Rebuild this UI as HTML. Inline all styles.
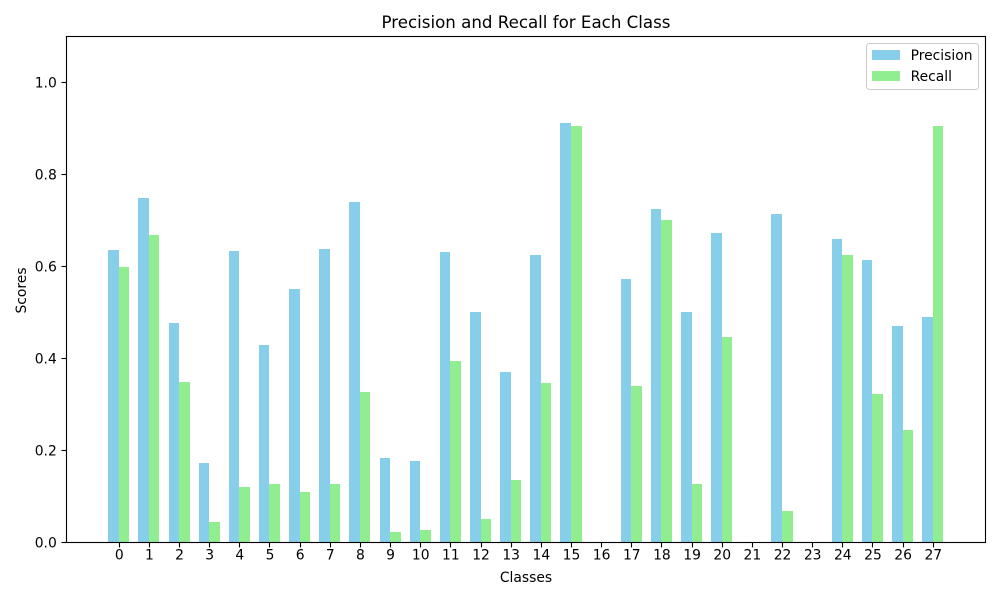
<!DOCTYPE html>
<html>
<head>
<meta charset="utf-8">
<style>
html,body{margin:0;padding:0;background:#fff;}
svg{display:block;}
text{font-family:"DejaVu Sans","Liberation Sans",sans-serif;fill:#000;}
</style>
</head>
<body>
<svg id="chart" width="1000" height="600" viewBox="0 0 1000 600" xmlns="http://www.w3.org/2000/svg"></svg>
<script>
const categories = [0,1,2,3,4,5,6,7,8,9,10,11,12,13,14,15,16,17,18,19,20,21,22,23,24,25,26,27];
const precisionValues = [0.635,0.748,0.476,0.171,0.633,0.428,0.55,0.637,0.74,0.182,0.176,0.63,0.5,0.369,0.624,0.912,0,0.573,0.724,0.5,0.672,0,0.713,0,0.659,0.613,0.469,0.489];
const recallValues = [0.598,0.667,0.348,0.043,0.119,0.126,0.108,0.127,0.326,0.021,0.027,0.393,0.05,0.135,0.345,0.906,0,0.339,0.7,0.126,0.446,0,0.067,0,0.624,0.321,0.243,0.905];
const yTicks = [0,0.2,0.4,0.6,0.8,1.0];
const yMax = 1.1;
const chartTitle = "Precision and Recall for Each Class";
const xTitle = "Classes";
const yTitle = "Scores";

const svg = document.getElementById('chart');
const NS = 'http://www.w3.org/2000/svg';
const plot = {left:66.5, right:985.5, top:36.5, bottom:542};
const barPx = 10.54;
const xScale = v => 118.75 + v * 30.149;
const yScale = v => plot.bottom - (v / yMax) * (plot.bottom - plot.top);
const snap = v => Math.floor(v + 0.5) + 0.5;

function make(tag, attrs, text){
  const el = document.createElementNS(NS, tag);
  for (const k in attrs) el.setAttribute(k, attrs[k]);
  if (text !== undefined) el.textContent = text;
  svg.appendChild(el);
  return el;
}

function bar(x0, x1, value, color){
  const l = Math.round(x0), r = Math.round(x1), t = Math.round(yScale(value));
  return make('rect',{x:l,y:t,width:r-l,height:plot.bottom-t,fill:color});
}

categories.forEach((c,i)=>{
  const p = bar(xScale(i)-barPx, xScale(i), precisionValues[i], '#87ceeb');
  
  
  const r = bar(xScale(i), xScale(i)+barPx, recallValues[i], '#90ee90');
  
  
});

const frame = make('rect',{x:plot.left,y:plot.top,width:plot.right-plot.left,height:plot.bottom+0.5-plot.top,fill:'none',stroke:'#000','stroke-width':1.11});



categories.forEach((c,i)=>{
  const x = snap(xScale(i));
  const t = make('line',{x1:x,x2:x,y1:plot.bottom+0.5,y2:plot.bottom+5.4,stroke:'#000','stroke-width':1.11});
  
  
  const l = make('text',{x:xScale(i)+0.5,y:plot.bottom+17.5,'text-anchor':'middle','font-size':'13.89px'},String(c));
  
  
});

yTicks.forEach(v=>{
  const y = snap(yScale(v));
  const t = make('line',{x1:plot.left-5,x2:plot.left,y1:y,y2:y,stroke:'#000','stroke-width':1.11});
  
  
  const l = make('text',{x:plot.left-9.7,y:y+5,'text-anchor':'end','font-size':'13.89px'},v.toFixed(1));
  
  
});

const title = make('text',{x:526,y:28,'text-anchor':'middle','font-size':'16.67px'},chartTitle);


const xt = make('text',{x:526,y:582,'text-anchor':'middle','font-size':'13.89px'},xTitle);


const yt = make('text',{x:0,y:0,'text-anchor':'middle','font-size':'13.89px',transform:'translate(26,290.5) rotate(-90)'},yTitle);



const legendBox = make('rect',{x:866.5,y:43.5,width:112,height:46,rx:3,fill:'#fff','fill-opacity':0.8,stroke:'#ccc','stroke-width':1});


const sw1 = make('rect',{x:872,y:50,width:28,height:10,fill:'#87ceeb'});


const lt1 = make('text',{x:910.6,y:60,'font-size':'13.89px'},'Precision');


const sw2 = make('rect',{x:872,y:71,width:28,height:10,fill:'#90ee90'});


const lt2 = make('text',{x:910.6,y:81,'font-size':'13.89px'},'Recall');


</script>
</body>
</html>
